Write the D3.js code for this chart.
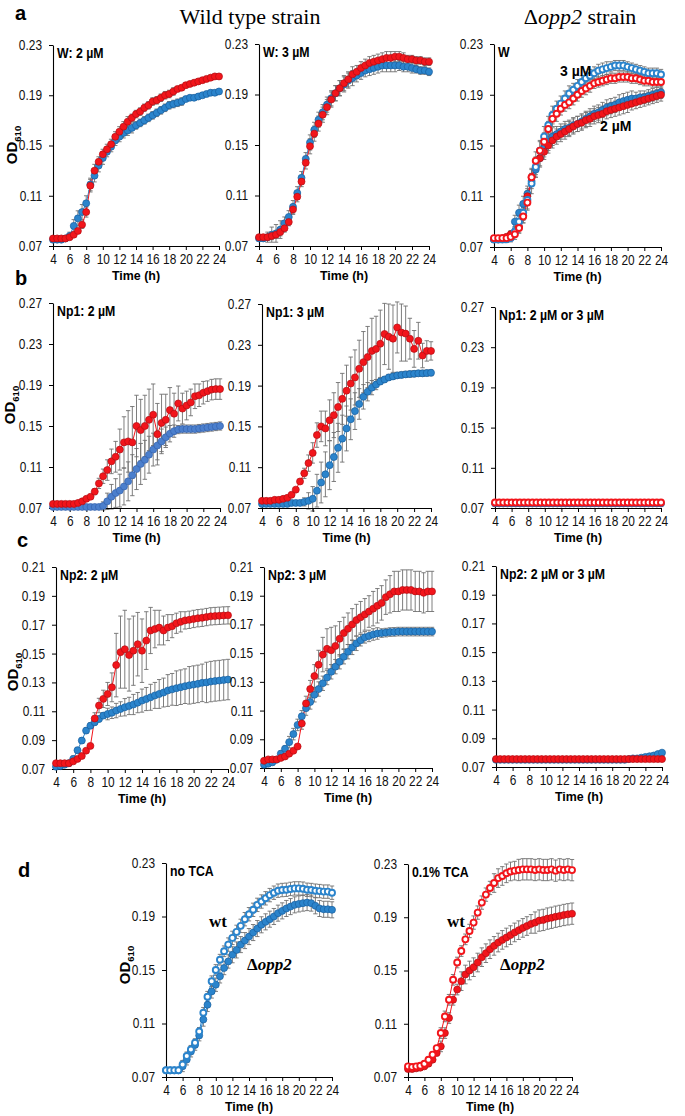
<!DOCTYPE html>
<html><head><meta charset="utf-8">
<script src="https://cdn.jsdelivr.net/npm/d3@7"></script>
<style>body{margin:0;background:#fff}svg{display:block}</style>
</head><body>
<svg id="c" width="685" height="1116"></svg>
<script>
// ---------------- DATA ----------------
const time = [4,4.5,5,5.5,6,6.5,7,7.5,8,8.5,9,9.5,10,10.5,11,11.5,12,12.5,13,13.5,14,14.5,15,15.5,16,16.5,17,17.5,18,18.5,19,19.5,20,20.5,21,21.5,22,22.5,23,23.5,24];
const xTicks = [4,6,8,10,12,14,16,18,20,22,24];
const yTicksW = [0.07,0.11,0.15,0.19,0.23];
const yTicksNp1 = [0.07,0.11,0.15,0.19,0.23,0.27];
const yTicksNp2 = [0.07,0.09,0.11,0.13,0.15,0.17,0.19,0.21];

// a: W, wild type 2 µM
const a1Red = [.076,.076,.076,.076,.077,.079,.082,.087,.097,.118,.130,.137,.143,.147,.151,.157,.161,.165,.169,.172,.175,.177,.180,.182,.185,.186,.188,.190,.191,.193,.195,.196,.198,.199,.200,.201,.202,.203,.204,.205,.205];
const a1RedErr = [.001,.001,.001,.001,.001,.002,.002,.003,.004,.005,.005,.004,.004,.004,.004,.004,.004,.004,.004,.003,.003,.003,.003,.003,.003,.003,.003,.003,.003,.003,.002,.002,.002,.002,.002,.002,.002,.002,.002,.002,.002];
const a1Blue = [.075,.075,.075,.076,.078,.086,.092,.097,.104,.119,.126,.134,.140,.145,.149,.154,.157,.160,.162,.164,.166,.168,.170,.172,.174,.176,.178,.180,.182,.183,.184,.185,.187,.188,.188,.189,.190,.191,.192,.192,.193];
const a1BlueErr = [.001,.001,.001,.001,.003,.005,.006,.006,.006,.005,.005,.005,.005,.004,.004,.004,.004,.004,.004,.004,.003,.003,.003,.003,.003,.003,.003,.003,.003,.003,.003,.003,.002,.002,.002,.002,.002,.002,.002,.002,.002];
// a: W, wild type 3 µM
const a2Red = [.077,.077,.077,.078,.079,.081,.084,.089,.099,.109,.121,.136,.149,.159,.167,.174,.180,.186,.191,.195,.199,.202,.206,.208,.211,.213,.215,.216,.217,.218,.219,.219,.220,.220,.219,.218,.218,.217,.217,.216,.216];
const a2RedErr = [.001,.001,.002,.003,.003,.003,.003,.003,.004,.004,.004,.005,.006,.006,.006,.006,.006,.006,.006,.006,.006,.006,.006,.005,.005,.005,.005,.005,.005,.005,.005,.005,.004,.004,.004,.003,.003,.003,.003,.003,.003];
const a2Blue = [.076,.076,.077,.079,.080,.083,.088,.093,.101,.112,.124,.139,.152,.162,.170,.176,.182,.187,.191,.195,.198,.201,.203,.205,.207,.209,.210,.211,.212,.213,.213,.213,.213,.213,.212,.212,.211,.210,.209,.209,.208];
const a2BlueErr = [.001,.002,.004,.006,.007,.007,.005,.005,.005,.005,.005,.005,.006,.006,.006,.006,.006,.006,.006,.006,.006,.006,.006,.005,.005,.005,.005,.005,.005,.005,.005,.005,.005,.004,.004,.004,.004,.003,.003,.003,.003];
// a: W, Δopp2
const a3Blue3 = [.076,.076,.076,.076,.077,.082,.090,.097,.107,.120,.133,.146,.157,.166,.174,.179,.183,.187,.191,.194,.197,.200,.203,.205,.207,.209,.210,.211,.212,.213,.213,.213,.212,.211,.210,.209,.208,.207,.207,.207,.206];
const a3Blue3Err = [.002,.002,.002,.002,.003,.004,.005,.006,.007,.008,.008,.008,.008,.007,.007,.006,.006,.006,.006,.005,.005,.005,.005,.005,.005,.005,.005,.005,.004,.004,.004,.004,.004,.004,.004,.004,.004,.004,.004,.004,.004];
const a3Red3 = [.077,.077,.077,.077,.078,.080,.085,.094,.105,.125,.138,.146,.153,.163,.171,.175,.179,.182,.184,.187,.190,.193,.195,.197,.199,.200,.201,.202,.203,.203,.204,.204,.204,.203,.203,.202,.201,.201,.200,.200,.200];
const a3Red3Err = [.002,.002,.002,.002,.003,.004,.004,.005,.006,.007,.007,.007,.007,.006,.006,.006,.005,.005,.005,.005,.005,.005,.005,.005,.004,.004,.004,.004,.004,.004,.004,.004,.004,.004,.004,.004,.004,.004,.004,.004,.004];
const a3Blue2 = [.076,.076,.076,.077,.079,.090,.097,.104,.112,.122,.131,.140,.148,.153,.157,.159,.161,.163,.164,.166,.167,.169,.171,.173,.175,.176,.178,.180,.181,.182,.184,.185,.186,.187,.187,.188,.188,.189,.190,.191,.192];
const a3Blue2Err = [.002,.002,.002,.002,.003,.005,.006,.006,.006,.006,.006,.007,.007,.007,.007,.006,.006,.006,.006,.006,.006,.006,.006,.006,.006,.006,.006,.006,.006,.006,.006,.006,.006,.006,.005,.005,.005,.005,.005,.005,.005];
const a3Red2 = [.076,.076,.077,.078,.080,.082,.086,.095,.110,.125,.133,.140,.145,.150,.154,.157,.159,.161,.163,.165,.167,.168,.170,.171,.173,.174,.175,.177,.178,.179,.180,.181,.182,.183,.184,.185,.186,.187,.188,.189,.190];
const a3Red2Err = [.002,.002,.002,.002,.003,.004,.005,.006,.006,.006,.006,.006,.006,.006,.006,.006,.006,.006,.006,.006,.006,.006,.006,.006,.006,.006,.006,.006,.006,.006,.006,.006,.006,.005,.005,.005,.005,.005,.005,.005,.005];
// b: Np1
const b1Red = [.074,.074,.074,.074,.074,.074,.075,.0765,.079,.081,.086,.094,.101,.107,.1155,.120,.127,.134,.135,.134,.150,.146,.150,.156,.161,.142,.153,.156,.1655,.162,.172,.167,.170,.173,.179,.180,.1825,.184,.1855,.186,.186];
const b1RedErr = [.002,.002,.002,.002,.002,.002,.002,.002,.002,.002,.003,.005,.007,.010,.012,.015,.020,.025,.030,.035,.030,.030,.030,.030,.030,.030,.028,.025,.022,.020,.017,.015,.014,.013,.012,.011,.011,.010,.010,.010,.010];
const b1Blue = [.071,.071,.071,.071,.071,.071,.071,.071,.071,.071,.071,.071,.072,.0765,.081,.0846,.087,.091,.096,.102,.108,.113,.117,.122,.127,.131,.135,.139,.1425,.145,.1465,.147,.147,.147,.147,.1475,.148,.1485,.149,.1495,.150];
const b1BlueErr = [.001,.001,.001,.001,.001,.001,.001,.001,.001,.001,.001,.001,.004,.008,.012,.014,.016,.018,.019,.020,.020,.020,.019,.018,.016,.014,.012,.010,.008,.006,.004,.004,.004,.004,.004,.004,.004,.004,.004,.004,.004];
const b2Red = [.077,.077,.077,.078,.078,.079,.080,.083,.088,.096,.104,.114,.124,.1415,.150,.148,.156,.161,.169,.177,.185,.192,.198,.2065,.213,.218,.224,.226,.231,.2406,.238,.236,.247,.242,.241,.236,.226,.234,.2195,.224,.224];
const b2RedErr = [.002,.002,.002,.002,.002,.002,.002,.002,.002,.002,.005,.008,.010,.012,.015,.017,.020,.022,.024,.025,.025,.026,.027,.028,.030,.030,.032,.032,.033,.030,.032,.033,.025,.028,.027,.020,.018,.018,.012,.010,.009];
const b2Blue = [.074,.074,.074,.074,.074,.074,.074,.075,.075,.075,.076,.077,.079,.087,.095,.103,.112,.120,.129,.138,.148,.157,.165,.172,.179,.184,.188,.191,.194,.196,.198,.199,.200,.2005,.201,.2013,.2016,.202,.202,.2023,.2026];
const b2BlueErr = [.002,.002,.002,.002,.002,.002,.002,.002,.002,.002,.004,.008,.012,.016,.020,.022,.024,.024,.024,.023,.022,.020,.018,.015,.012,.009,.007,.005,.003,.003,.003,.003,.003,.003,.003,.003,.003,.003,.003,.003,.003];
const b3Red = [.0755,.0755,.0755,.0755,.0755,.0755,.0755,.0755,.0755,.0755,.0755,.0755,.0755,.0755,.0755,.0755,.0755,.0755,.0755,.0755,.0755,.0755,.0755,.0755,.0755,.0755,.0755,.0755,.0755,.0755,.0755,.0755,.0755,.0755,.0755,.0755,.0755,.0755,.0755,.0755,.0755];
const b3Blue = [.0745,.0745,.0745,.0745,.0745,.0745,.0745,.0745,.0745,.0745,.0745,.0745,.0745,.0745,.0745,.0745,.0745,.0745,.0745,.0745,.0745,.0745,.0745,.0745,.0745,.0745,.0745,.0745,.0745,.0745,.0745,.0745,.0745,.0745,.0745,.0745,.0745,.0745,.0745,.0745,.0745];
const flatErr = [.001,.001,.001,.001,.001,.001,.001,.001,.001,.001,.001,.001,.001,.001,.001,.001,.001,.001,.001,.001,.001,.001,.001,.001,.001,.001,.001,.001,.001,.001,.001,.001,.001,.001,.001,.001,.001,.001,.001,.001,.001];
// c: Np2
const c1Red = [.074,.074,.074,.074,.0753,.077,.079,.0827,.086,.105,.114,.1186,.122,.1266,.142,.151,.153,.149,.152,.1565,.152,.159,.166,.167,.168,.166,.168,.169,.171,.172,.173,.1734,.174,.1745,.1748,.1753,.1758,.176,.1762,.1764,.1765];
const c1RedErr = [.001,.001,.001,.001,.001,.001,.001,.001,.001,.004,.005,.006,.008,.010,.022,.025,.027,.025,.024,.022,.022,.020,.016,.013,.012,.010,.009,.008,.007,.007,.006,.006,.006,.006,.006,.006,.006,.006,.006,.006,.006];
const c1Blue = [.0716,.072,.073,.074,.077,.083,.0897,.0966,.100,.1024,.1047,.107,.1081,.109,.1105,.1116,.1128,.1137,.1147,.116,.1174,.1185,.1197,.121,.122,.123,.1244,.1252,.126,.1267,.1274,.128,.1285,.129,.1297,.130,.1306,.131,.1313,.1317,.132];
const c1BlueErr = [.002,.002,.002,.002,.002,.002,.002,.002,.002,.002,.002,.002,.004,.004,.005,.005,.006,.006,.007,.007,.008,.008,.009,.009,.010,.010,.011,.011,.012,.012,.012,.013,.013,.013,.013,.014,.014,.014,.014,.014,.014];
const c2Red = [.075,.076,.076,.076,.077,.078,.080,.082,.085,.101,.115,.125,.134,.142,.149,.153,.152,.155,.160,.164,.167,.170,.173,.175,.177,.179,.181,.183,.185,.189,.191,.193,.193,.194,.194,.194,.193,.193,.192,.193,.193];
const c2RedErr = [.001,.001,.001,.001,.001,.001,.001,.001,.001,.004,.005,.006,.008,.010,.012,.014,.016,.014,.012,.011,.011,.011,.011,.011,.011,.011,.012,.012,.012,.012,.013,.014,.014,.014,.014,.014,.014,.014,.014,.014,.014];
const c2Blue = [.0723,.073,.074,.0758,.080,.0834,.088,.0936,.100,.106,.1117,.116,.121,.125,.129,.133,.137,.1406,.144,.1475,.151,.154,.1568,.159,.161,.162,.163,.1637,.164,.1643,.1647,.1648,.165,.165,.165,.165,.165,.165,.165,.165,.165];
const c2BlueErr = [.002,.002,.002,.002,.002,.002,.004,.004,.004,.004,.005,.005,.005,.005,.005,.005,.005,.005,.005,.005,.005,.005,.005,.004,.004,.004,.004,.004,.003,.003,.003,.003,.003,.003,.003,.003,.003,.003,.003,.003,.003];
const c3Red = [.0755,.0755,.0755,.0755,.0755,.0755,.0755,.0755,.0755,.0755,.0755,.0755,.0755,.0755,.0755,.0755,.0755,.0755,.0755,.0755,.0755,.0755,.0755,.0755,.0755,.0755,.0755,.0755,.0755,.0755,.0755,.0755,.0755,.0755,.0755,.0755,.0755,.0755,.0755,.0755,.0755];
const c3Blue = [.075,.075,.075,.075,.075,.075,.075,.075,.075,.075,.075,.075,.075,.075,.075,.075,.075,.075,.075,.075,.075,.075,.075,.075,.075,.075,.075,.075,.075,.075,.075,.075,.0755,.076,.076,.0765,.077,.0775,.078,.079,.080];
// d: TCA
const d1Wt = [.075,.075,.075,.075,.0794,.0857,.0906,.0956,.104,.118,.130,.1416,.150,.1577,.164,.169,.174,.1785,.183,.188,.1917,.195,.1987,.2012,.2036,.206,.2078,.2093,.2098,.210,.2106,.211,.211,.2108,.210,.2098,.2093,.209,.2086,.2086,.2078];
const d1WtErr = [.001,.001,.001,.001,.003,.003,.003,.003,.003,.004,.004,.004,.004,.004,.004,.005,.005,.005,.005,.005,.005,.005,.005,.005,.005,.005,.005,.005,.005,.005,.005,.005,.005,.005,.005,.005,.005,.005,.005,.005,.005];
const d1Opp = [.075,.075,.075,.075,.078,.083,.089,.094,.101,.113,.124,.134,.139,.1453,.1515,.1564,.1614,.165,.169,.172,.175,.178,.181,.1838,.186,.188,.190,.1925,.1942,.196,.1974,.1987,.1994,.200,.2004,.200,.198,.196,.1954,.1954,.195];
const d1OppErr = [.001,.001,.001,.001,.004,.004,.004,.004,.004,.005,.005,.005,.005,.005,.005,.005,.006,.006,.006,.006,.006,.006,.006,.006,.006,.006,.006,.006,.006,.006,.006,.006,.006,.006,.006,.006,.006,.006,.006,.006,.006];
const d2Wt = [.078,.0775,.078,.0785,.080,.083,.0868,.0917,.103,.1155,.128,.143,.156,.1646,.1734,.1797,.186,.1935,.201,.207,.212,.2157,.2194,.221,.223,.2244,.225,.2255,.226,.226,.226,.2255,.226,.2255,.2255,.226,.225,.226,.2255,.226,.2254];
const d2WtErr = [.002,.002,.002,.002,.002,.002,.002,.002,.004,.004,.004,.004,.004,.004,.004,.005,.005,.005,.005,.005,.005,.007,.007,.007,.007,.007,.007,.008,.008,.008,.008,.008,.008,.008,.008,.008,.008,.008,.008,.008,.008];
const d2Opp = [.076,.076,.0765,.077,.078,.080,.083,.088,.093,.103,.1143,.128,.1357,.142,.147,.150,.1525,.156,.160,.163,.166,.1685,.171,.173,.1748,.1766,.1786,.1803,.182,.1834,.185,.186,.1875,.188,.189,.1896,.1904,.191,.1917,.1922,.1927];
const d2OppErr = [.002,.002,.002,.002,.002,.002,.002,.002,.004,.004,.004,.004,.004,.007,.007,.007,.007,.007,.007,.007,.007,.007,.007,.007,.007,.007,.007,.007,.007,.007,.007,.008,.008,.008,.008,.008,.008,.008,.008,.008,.008];

// ---------------- STYLE / LAYOUT ----------------
const RED = {fill:"#f2151b", stroke:"#b30d12"};
const BLUE = {fill:"#2b84cc", stroke:"#175f9f"};
const BLUE_B = {fill:"#4b7fcd", stroke:"#3462ad"};
const SANS = "'Liberation Sans', Arial, Helvetica, sans-serif";
const SERIF = "'Liberation Serif', 'Times New Roman', serif";
const SX = 0.85;

const svg = d3.select("#c");

const panels = [
  {box:[53,219,45,246], ydom:[0.07,0.23], yt:yTicksW, label:"W: 2 µM",
   series:[{v:a1Blue,e:a1BlueErr,c:BLUE},{v:a1Red,e:a1RedErr,c:RED}]},
  {box:[259,429,44,246], ydom:[0.07,0.23], yt:yTicksW, label:"W: 3 µM",
   series:[{v:a2Blue,e:a2BlueErr,c:BLUE},{v:a2Red,e:a2RedErr,c:RED}]},
  {box:[494,661,44,247], ydom:[0.07,0.23], yt:yTicksW, label:"W",
   series:[{v:a3Blue2,e:a3Blue2Err,c:BLUE},{v:a3Red2,e:a3Red2Err,c:RED},
           {v:a3Blue3,e:a3Blue3Err,c:BLUE,open:true},{v:a3Red3,e:a3Red3Err,c:RED,open:true}]},
  {box:[53,220,303,508], ydom:[0.07,0.27], yt:yTicksNp1, label:"Np1: 2 µM",
   series:[{v:b1Blue,e:b1BlueErr,c:BLUE_B},{v:b1Red,e:b1RedErr,c:RED}]},
  {box:[262,431,304,508], ydom:[0.07,0.27], yt:yTicksNp1, label:"Np1: 3 µM",
   series:[{v:b2Blue,e:b2BlueErr,c:BLUE},{v:b2Red,e:b2RedErr,c:RED}]},
  {box:[495,661,307,508], ydom:[0.07,0.27], yt:yTicksNp1, label:"Np1: 2 µM or 3 µM",
   series:[{v:b3Blue,e:flatErr,c:BLUE},{v:b3Red,e:flatErr,c:RED,open:true}]},
  {box:[56,228,567,769], ydom:[0.07,0.21], yt:yTicksNp2, label:"Np2: 2 µM",
   series:[{v:c1Blue,e:c1BlueErr,c:BLUE},{v:c1Red,e:c1RedErr,c:RED}]},
  {box:[264,432,567,768], ydom:[0.07,0.21], yt:yTicksNp2, label:"Np2: 3 µM",
   series:[{v:c2Blue,e:c2BlueErr,c:BLUE},{v:c2Red,e:c2RedErr,c:RED}]},
  {box:[496,662,566,767], ydom:[0.07,0.21], yt:yTicksNp2, label:"Np2: 2 µM or 3 µM",
   series:[{v:c3Blue,e:flatErr,c:BLUE},{v:c3Red,e:flatErr,c:RED}]},
  {box:[166,332,863,1077], ydom:[0.07,0.23], yt:yTicksW, label:"no TCA",
   series:[{v:d1Opp,e:d1OppErr,c:BLUE},{v:d1Wt,e:d1WtErr,c:BLUE,open:true}]},
  {box:[408,572,864,1077], ydom:[0.07,0.23], yt:yTicksW, label:"0.1% TCA",
   series:[{v:d2Opp,e:d2OppErr,c:RED},{v:d2Wt,e:d2WtErr,c:RED,open:true}]}
];

const fmt = d3.format(".2f");

function drawPanel(p){
  const [L,R,T,B] = p.box;
  const x = d3.scaleLinear().domain([4,24]).range([L,R]);
  const y = d3.scaleLinear().domain(p.ydom).range([B,T]);
  const g = svg.append("g");

  // error bars
  const eg = g.append("g").attr("stroke","#6f6f6f").attr("stroke-width",0.9);
  p.series.forEach(s=>{
    time.forEach((t,i)=>{
      const e = s.e[i]; if(!e) return;
      const cx = x(t), y1 = y(s.v[i]+e), y2 = y(s.v[i]-e);
      eg.append("line").attr("x1",cx).attr("x2",cx).attr("y1",y1).attr("y2",y2);
      eg.append("line").attr("x1",cx-2.2).attr("x2",cx+2.2).attr("y1",y1).attr("y2",y1);
      eg.append("line").attr("x1",cx-2.2).attr("x2",cx+2.2).attr("y1",y2).attr("y2",y2);
    });
  });

  // axes
  const xa = g.append("g").attr("transform",`translate(0,${B})`)
    .call(d3.axisBottom(x).tickValues(xTicks).tickSize(4).tickSizeOuter(0).tickPadding(5).tickFormat(d3.format("d")));
  xa.selectAll("text").attr("font-size",14).attr("font-family",SANS).attr("fill","#111")
    .attr("y",8).attr("transform",`scale(${SX},1)`);
  const ya = g.append("g").attr("transform",`translate(${L},0)`)
    .call(d3.axisLeft(y).tickValues(p.yt).tickSize(4).tickSizeOuter(0).tickFormat(fmt));
  ya.selectAll("text").attr("font-size",14).attr("font-family",SANS).attr("fill","#111")
    .attr("x",-11/SX).attr("transform",`scale(${SX},1)`);
  g.selectAll(".domain").attr("stroke","#000").attr("stroke-width",1.1);
  g.selectAll(".tick line").attr("stroke","#000");

  // series lines + markers
  const line = d3.line().x((d,i)=>x(time[i])).y(d=>y(d));
  p.series.forEach(s=>{
    g.append("path").datum(s.v).attr("d",line).attr("fill","none")
      .attr("stroke",s.c.fill).attr("stroke-width",1);
  });
  p.series.forEach(s=>{
    g.append("g").selectAll("circle").data(s.v).join("circle")
      .attr("cx",(d,i)=>x(time[i])).attr("cy",d=>y(d))
      .attr("r", s.open ? 3.0 : 3.5)
      .attr("fill", s.open ? "#fff" : s.c.fill)
      .attr("stroke", s.open ? s.c.fill : s.c.stroke)
      .attr("stroke-width", s.open ? 1.9 : 0.7);
  });

  // in-panel label
  g.append("text").attr("transform",`translate(${L+4},${T+13}) scale(0.88,1)`)
    .attr("font-family",SANS).attr("font-weight","bold").attr("font-size",14).text(p.label);

  // time label
  g.append("text").attr("transform",`translate(${(L+R)/2},${B+34}) scale(0.92,1)`)
    .attr("text-anchor","middle").attr("font-family",SANS).attr("font-weight","bold")
    .attr("font-size",13.5).text("Time (h)");
}
panels.forEach(drawPanel);

// OD610 labels
[[17,145],[15,405],[18,672],[130,965]].forEach(([xx,yy])=>{
  const t = svg.append("text").attr("transform",`translate(${xx},${yy}) rotate(-90)`)
    .attr("text-anchor","middle").attr("font-family",SANS).attr("font-weight","bold").attr("font-size",15);
  t.append("tspan").text("OD");
  t.append("tspan").attr("font-size",9.5).attr("dy",4).text("610");
});

// panel letters
[["a",15,20],["b",15,285],["c",17,547],["d",18,877]].forEach(([s,xx,yy])=>{
  svg.append("text").attr("x",xx).attr("y",yy).attr("font-family",SANS).attr("font-weight","bold")
    .attr("font-size",20).text(s);
});

// column titles
svg.append("text").attr("x",250).attr("y",24).attr("text-anchor","middle")
  .attr("font-family",SERIF).attr("font-size",22).text("Wild type strain");
const t2 = svg.append("text").attr("x",580).attr("y",24).attr("text-anchor","middle")
  .attr("font-family",SERIF).attr("font-size",22);
t2.append("tspan").text("Δ");
t2.append("tspan").attr("font-style","italic").text("opp2");
t2.append("tspan").text(" strain");

// annotations
function ann(txt,xx,yy,opts){
  const t = svg.append("text").attr("x",xx).attr("y",yy).attr("font-weight","bold");
  if(opts==="sans"){ t.attr("font-family",SANS).attr("font-size",14).text(txt); }
  else {
    t.attr("font-family",SERIF).attr("font-size",17);
    if(txt==="wt") t.text("wt");
    else { t.append("tspan").text("Δ"); t.append("tspan").attr("font-style","italic").text("opp2"); }
  }
}
ann("3 µM",560,76,"sans");
ann("2 µM",600,131,"sans");
ann("wt",209,927);
ann("opp",247,970);
ann("wt",447,927);
ann("opp",500,970);
</script>
</body></html>
